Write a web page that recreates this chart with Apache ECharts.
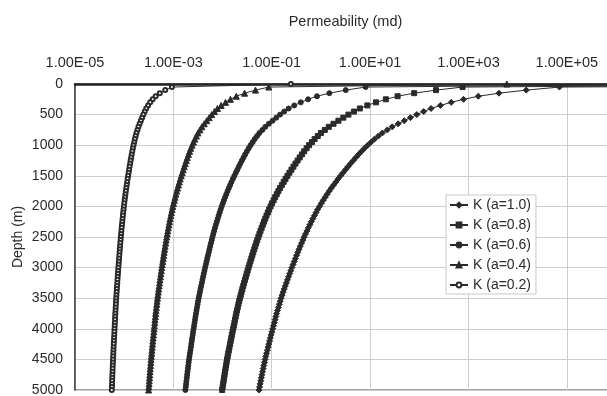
<!DOCTYPE html>
<html>
<head>
<meta charset="utf-8">
<script src="https://cdn.jsdelivr.net/npm/echarts@6/dist/echarts.min.js"></script>
<style>
  html, body { margin: 0; padding: 0; background: #fff; }
  #chart { width: 607px; height: 396px; }
</style>
</head>
<body>
<div id="chart"></div>
<script>
/* depth samples (m) */
const DEPTH = [
  0, 50, 100, 150, 200, 250, 300, 350, 400, 450, 500, 550, 600, 650, 700, 750, 800, 850, 900, 950,
  1000, 1050, 1100, 1150, 1200, 1250, 1300, 1350, 1400, 1450, 1500, 1550, 1600, 1650, 1700, 1750, 1800, 1850, 1900, 1950,
  2000, 2050, 2100, 2150, 2200, 2250, 2300, 2350, 2400, 2450, 2500, 2550, 2600, 2650, 2700, 2750, 2800, 2850, 2900, 2950,
  3000, 3050, 3100, 3150, 3200, 3250, 3300, 3350, 3400, 3450, 3500, 3550, 3600, 3650, 3700, 3750, 3800, 3850, 3900, 3950,
  4000, 4050, 4100, 4150, 4200, 4250, 4300, 4350, 4400, 4450, 4500, 4550, 4600, 4650, 4700, 4750, 4800, 4850, 4900, 4950,
  5000
];

/* log10 of permeability (md), one value per depth */
const LOGK_A10 = [
  16.95, 4.85, 4.175, 3.62, 3.2, 2.9, 2.65, 2.43, 2.24, 2.09, 1.95, 1.82, 1.695, 1.57, 1.45, 1.35, 1.25, 1.17, 1.09, 1.02,
  0.95, 0.886, 0.825, 0.767, 0.711, 0.657, 0.604, 0.552, 0.501, 0.45, 0.4, 0.351, 0.304, 0.258, 0.213, 0.17, 0.128, 0.087, 0.047, 0.008,
  -0.03, -0.065, -0.099, -0.132, -0.164, -0.195, -0.226, -0.256, -0.285, -0.313, -0.34, -0.367, -0.393, -0.419, -0.444, -0.469, -0.494, -0.518, -0.542, -0.566,
  -0.59, -0.613, -0.636, -0.658, -0.68, -0.702, -0.724, -0.746, -0.767, -0.788, -0.81, -0.828, -0.846, -0.864, -0.882, -0.9, -0.916, -0.932, -0.948, -0.964,
  -0.98, -0.996, -1.012, -1.028, -1.044, -1.059, -1.074, -1.089, -1.105, -1.12, -1.135, -1.148, -1.161, -1.174, -1.186, -1.199, -1.211, -1.223, -1.235, -1.247,
  -1.26
];
const LOGK_A08 = [
  12.56, 2.88, 2.34, 1.896, 1.56, 1.32, 1.12, 0.944, 0.792, 0.672, 0.56, 0.456, 0.356, 0.256, 0.16, 0.08, 0.0, -0.064, -0.128, -0.184,
  -0.24, -0.291, -0.34, -0.386, -0.431, -0.474, -0.517, -0.558, -0.599, -0.64, -0.68, -0.719, -0.757, -0.794, -0.83, -0.864, -0.898, -0.93, -0.962, -0.994,
  -1.024, -1.052, -1.079, -1.106, -1.131, -1.156, -1.181, -1.205, -1.228, -1.25, -1.272, -1.294, -1.314, -1.335, -1.355, -1.375, -1.395, -1.414, -1.434, -1.453,
  -1.472, -1.49, -1.509, -1.526, -1.544, -1.562, -1.579, -1.597, -1.614, -1.63, -1.648, -1.662, -1.677, -1.691, -1.706, -1.72, -1.733, -1.746, -1.758, -1.771,
  -1.784, -1.797, -1.81, -1.822, -1.835, -1.847, -1.859, -1.871, -1.884, -1.896, -1.908, -1.918, -1.929, -1.939, -1.949, -1.959, -1.969, -1.978, -1.988, -1.998,
  -2.008
];
const LOGK_A06 = [
  8.17, 0.91, 0.505, 0.172, -0.08, -0.26, -0.41, -0.542, -0.656, -0.746, -0.83, -0.908, -0.983, -1.058, -1.13, -1.19, -1.25, -1.298, -1.346, -1.388,
  -1.43, -1.468, -1.505, -1.54, -1.573, -1.606, -1.638, -1.669, -1.699, -1.73, -1.76, -1.789, -1.818, -1.845, -1.872, -1.898, -1.923, -1.948, -1.972, -1.995,
  -2.018, -2.039, -2.059, -2.079, -2.098, -2.117, -2.136, -2.154, -2.171, -2.188, -2.204, -2.22, -2.236, -2.251, -2.266, -2.281, -2.296, -2.311, -2.325, -2.34,
  -2.354, -2.368, -2.382, -2.395, -2.408, -2.421, -2.434, -2.448, -2.46, -2.473, -2.486, -2.497, -2.508, -2.518, -2.529, -2.54, -2.55, -2.559, -2.569, -2.578,
  -2.588, -2.598, -2.607, -2.617, -2.626, -2.635, -2.644, -2.653, -2.663, -2.672, -2.681, -2.689, -2.697, -2.704, -2.712, -2.719, -2.727, -2.734, -2.741, -2.748,
  -2.756
];
const LOGK_A04 = [
  3.78, -1.06, -1.33, -1.552, -1.72, -1.84, -1.94, -2.028, -2.104, -2.164, -2.22, -2.272, -2.322, -2.372, -2.42, -2.46, -2.5, -2.532, -2.564, -2.592,
  -2.62, -2.646, -2.67, -2.693, -2.716, -2.737, -2.758, -2.779, -2.8, -2.82, -2.84, -2.86, -2.878, -2.897, -2.915, -2.932, -2.949, -2.965, -2.981, -2.997,
  -3.012, -3.026, -3.04, -3.053, -3.066, -3.078, -3.09, -3.102, -3.114, -3.125, -3.136, -3.147, -3.157, -3.168, -3.178, -3.188, -3.198, -3.207, -3.217, -3.226,
  -3.236, -3.245, -3.254, -3.263, -3.272, -3.281, -3.29, -3.298, -3.307, -3.315, -3.324, -3.331, -3.338, -3.346, -3.353, -3.36, -3.366, -3.373, -3.379, -3.386,
  -3.392, -3.398, -3.405, -3.411, -3.418, -3.424, -3.43, -3.436, -3.442, -3.448, -3.454, -3.459, -3.464, -3.47, -3.474, -3.48, -3.484, -3.489, -3.494, -3.499,
  -3.504
];
const LOGK_A02 = [
  -0.61, -3.03, -3.165, -3.276, -3.36, -3.42, -3.47, -3.514, -3.552, -3.582, -3.61, -3.636, -3.661, -3.686, -3.71, -3.73, -3.75, -3.766, -3.782, -3.796,
  -3.81, -3.823, -3.835, -3.847, -3.858, -3.869, -3.879, -3.89, -3.9, -3.91, -3.92, -3.93, -3.939, -3.948, -3.957, -3.966, -3.974, -3.983, -3.991, -3.998,
  -4.006, -4.013, -4.02, -4.026, -4.033, -4.039, -4.045, -4.051, -4.057, -4.063, -4.068, -4.073, -4.079, -4.084, -4.089, -4.094, -4.099, -4.104, -4.108, -4.113,
  -4.118, -4.123, -4.127, -4.132, -4.136, -4.14, -4.145, -4.149, -4.153, -4.158, -4.162, -4.166, -4.169, -4.173, -4.176, -4.18, -4.183, -4.186, -4.19, -4.193,
  -4.196, -4.199, -4.202, -4.206, -4.209, -4.212, -4.215, -4.218, -4.221, -4.224, -4.227, -4.23, -4.232, -4.235, -4.237, -4.24, -4.242, -4.245, -4.247, -4.249,
  -4.252
];

/* top axis ticks (log10 md) and how the original prints them */
const X_TICKS = [-5, -3, -1, 1, 3, 5];
const X_TICK_LABELS = ['1.00E-05', '1.00E-03', '1.00E-01', '1.00E+01', '1.00E+03', '1.00E+05'];

const SERIES = [
  { name: 'K (a=1.0)', values: LOGK_A10, symbol: 'diamond', size: 6 },
  { name: 'K (a=0.8)', values: LOGK_A08, symbol: 'rect', size: 5 },
  { name: 'K (a=0.6)', values: LOGK_A06, symbol: 'circle', size: 5 },
  { name: 'K (a=0.4)', values: LOGK_A04, symbol: 'triangle', size: 6 },
  { name: 'K (a=0.2)', values: LOGK_A02, symbol: 'emptyCircle', size: 4 },
];

const FONT = "'Liberation Sans', Arial, sans-serif";
const INK = '#2a2a2a';

const chart = echarts.init(document.getElementById('chart'), null, { renderer: 'canvas' });

// plot area runs past the right edge of the picture (1.00E+06 sits just off-canvas)
chart.setOption({
  animation: false,
  backgroundColor: '#fff',
  textStyle: { fontFamily: FONT },
  grid: {
    left: 75, top: 84, width: 541, height: 306,
    outerBoundsMode: 'none',
    containLabel: false,
    show: true, borderColor: '#444', borderWidth: 1.2, backgroundColor: 'transparent'
  },
  legend: {
    orient: 'vertical',
    left: 446, top: 195,
    padding: [3, 5, 2, 3],
    itemGap: 6,
    itemWidth: 18, itemHeight: 6,
    backgroundColor: '#fff',
    borderColor: '#c8c8c8', borderWidth: 1,
    textStyle: { fontFamily: FONT, fontSize: 14, color: INK },
    data: SERIES.map(s => s.name)
  },
  xAxis: {
    type: 'value',
    position: 'top',
    min: -5, max: 6, interval: 2,
    name: 'Permeability (md)',
    nameLocation: 'middle',
    nameGap: 55,
    nameMoveOverlap: false,
    nameTextStyle: { fontFamily: FONT, fontSize: 14.5, color: INK },
    axisLine: { show: true, onZero: false, lineStyle: { color: '#222', width: 2.5 } },
    axisTick: { show: false },
    axisLabel: {
      margin: 14, fontSize: 14.5, color: INK, fontFamily: FONT,
      formatter: v => {
        const i = X_TICKS.indexOf(Math.round(v * 1000) / 1000);
        return i >= 0 ? X_TICK_LABELS[i] : '';
      }
    },
    splitLine: { show: true, lineStyle: { color: '#cdcdcd', width: 1 } }
  },
  yAxis: {
    type: 'value',
    inverse: true,
    min: 0, max: 5000, interval: 500,
    name: 'Depth (m)',
    nameLocation: 'middle',
    nameGap: 50,
    nameRotate: 90,
    nameMoveOverlap: false,
    nameTextStyle: { fontFamily: FONT, fontSize: 14, color: INK },
    axisLine: { show: true, onZero: false, lineStyle: { color: '#444', width: 1.5 } },
    axisTick: { show: false },
    axisLabel: { margin: 12, fontSize: 14, color: INK, fontFamily: FONT, formatter: v => String(v) },
    splitLine: { show: true, lineStyle: { color: '#cdcdcd', width: 1 } }
  },
  series: SERIES.map(s => ({
    name: s.name,
    type: 'line',
    data: s.values.map((v, i) => [v, DEPTH[i]]),
    symbol: s.symbol,
    symbolSize: s.size,
    showAllSymbol: true,
    clip: true,
    lineStyle: { color: INK, width: 1 },
    itemStyle: { color: INK, borderColor: INK, borderWidth: 1 },
    emphasis: { disabled: true }
  }))
});
</script>
</body>
</html>
